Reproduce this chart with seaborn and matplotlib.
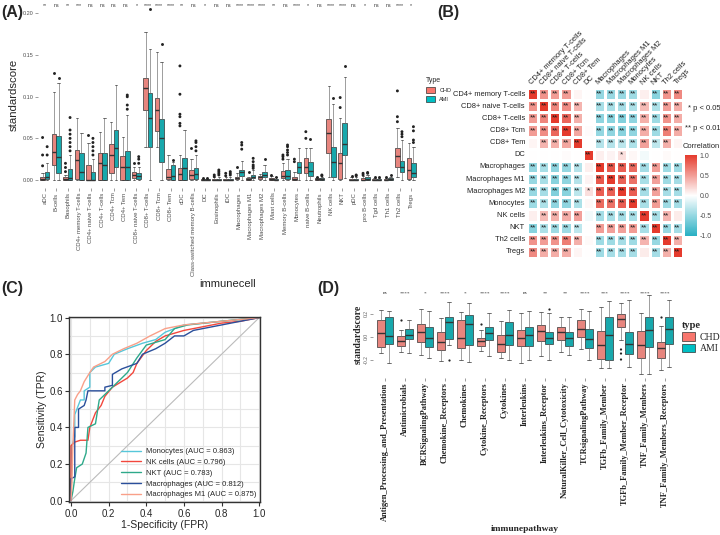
import numpy as np
import pandas as pd
import matplotlib
matplotlib.use("Agg")
import matplotlib.pyplot as plt
import seaborn as sns
from matplotlib.colors import LinearSegmentedColormap
from matplotlib.patches import Patch
from matplotlib.ticker import MultipleLocator

# ---------------- Panel A data ----------------
cells = ["aDC", "B-cells", "Basophils", "CD4+ memory T-cells", "CD4+ naive T-cells",
         "CD4+ T-cells", "CD4+ Tcm", "CD4+ Tem", "CD8+ naive T-cells", "CD8+ T-cells",
         "CD8+ Tcm", "CD8+ Tem", "cDC", "Class-switched memory B-cells", "DC",
         "Eosinophils", "iDC", "Macrophages", "Macrophages M1", "Macrophages M2",
         "Mast cells", "Memory B-cells", "Monocytes", "naive B-cells", "Neutrophils",
         "NK cells", "NKT", "pDC", "pro B-cells", "Tgd cells", "Th1 cells", "Th2 cells", "Tregs"]
cell_sig = ["**", "ns", "**", "***", "ns", "ns", "ns", "ns", "*", "****", "****", "****",
            "**", "ns", "*", "ns", "ns", "****", "****", "****", "**", "ns", "****", "*",
            "ns", "****", "****", "ns", "*", "ns", "ns", "****", "*"]
# (lower whisker, Q1, median, Q3, upper whisker)
chd_cell = [(0, 0, 0.001, 0.003, 0.008), (0, 0.018, 0.034, 0.055, 0.106),
            (0, 0, 0.001, 0.003, 0.006), (0, 0.001, 0.024, 0.036, 0.075),
            (0, 0, 0.0005, 0.018, 0.045), (0, 0, 0.020, 0.033, 0.058),
            (0, 0.008, 0.030, 0.043, 0.070), (0, 0, 0.016, 0.029, 0.052),
            (0, 0.002, 0.006, 0.009, 0.016), (0.040, 0.084, 0.110, 0.123, 0.178),
            (0.040, 0.059, 0.084, 0.098, 0.154), (0, 0.001, 0.004, 0.013, 0.030),
            (0, 0, 0.007, 0.014, 0.030), (0, 0.001, 0.006, 0.012, 0.025),
            (0, 0, 0, 0.001, 0.001), (0, 0, 0, 0.001, 0.003), (0, 0, 0, 0.001, 0.003),
            (0, 0.001, 0.002, 0.004, 0.008), (0, 0, 0.001, 0.002, 0.004),
            (0, 0.001, 0.003, 0.005, 0.007), (0, 0, 0.001, 0.002, 0.005),
            (0, 0.002, 0.005, 0.011, 0.020), (0, 0, 0.001, 0.004, 0.010),
            (0, 0.008, 0.015, 0.026, 0.038), (0, 0, 0.001, 0.002, 0.003),
            (0.004, 0.032, 0.057, 0.073, 0.113), (0, 0.001, 0.020, 0.033, 0.074),
            (0, 0, 0, 0.001, 0.003), (0, 0, 0, 0.002, 0.005), (0, 0, 0, 0.001, 0.002),
            (0, 0, 0, 0.001, 0.002), (0.003, 0.016, 0.029, 0.038, 0.062),
            (0, 0.001, 0.012, 0.026, 0.045)]
ami_cell = [(0, 0.001, 0.003, 0.010, 0.020), (0, 0.008, 0.028, 0.053, 0.117),
            (0, 0, 0.002, 0.013, 0.030), (0, 0, 0.010, 0.032, 0.057),
            (0, 0, 0.0005, 0.010, 0.025), (0, 0, 0.018, 0.033, 0.075),
            (0, 0.015, 0.038, 0.060, 0.114), (0, 0, 0.016, 0.035, 0.078),
            (0, 0.001, 0.005, 0.008, 0.015), (0, 0.040, 0.075, 0.104, 0.157),
            (0, 0.022, 0.050, 0.073, 0.142), (0, 0, 0.005, 0.018, 0.022),
            (0, 0, 0.014, 0.026, 0.060), (0, 0.001, 0.007, 0.014, 0.030),
            (0, 0, 0, 0.001, 0.001), (0, 0, 0, 0.001, 0.004), (0, 0, 0, 0.001, 0.004),
            (0, 0.005, 0.009, 0.012, 0.023), (0, 0.002, 0.004, 0.006, 0.012),
            (0, 0.004, 0.006, 0.010, 0.018), (0, 0, 0, 0.001, 0.003),
            (0, 0.001, 0.005, 0.012, 0.025), (0, 0.008, 0.015, 0.021, 0.038),
            (0, 0.005, 0.011, 0.021, 0.038), (0, 0, 0.001, 0.002, 0.004),
            (0, 0.003, 0.021, 0.040, 0.091), (0.002, 0.030, 0.043, 0.069, 0.124),
            (0, 0, 0, 0.001, 0.004), (0, 0, 0.001, 0.003, 0.006), (0, 0, 0, 0.001, 0.002),
            (0, 0, 0.001, 0.002, 0.004), (0, 0.010, 0.015, 0.023, 0.048),
            (0, 0.003, 0.008, 0.020, 0.040)]
chd_cell_out = [[0.017, 0.030, 0.051], [0.128], [0.010, 0.015, 0.020], [], [0.054], [], [], [],
                [0.020], [], [], [], [0.065, 0.068, 0.076, 0.079, 0.103, 0.137], [0.038],
                [0.002], [0.004, 0.006], [0.005, 0.008], [0.016], [0.009], [], [0.006],
                [0.025, 0.028, 0.030], [0.022, 0.025], [0.050, 0.058], [0.004], [],
                [0.087, 0.099], [0.005], [0.006, 0.008], [0.003], [0.003],
                [0.070, 0.076, 0.107], []]
ami_cell_out = [[0.030, 0.040], [0.122], [0.035, 0.040, 0.045, 0.050, 0.055, 0.060, 0.075], [],
                [0.030, 0.035, 0.040, 0.045, 0.050], [], [], [0.085, 0.090, 0.100, 0.102],
                [0.020, 0.025, 0.028], [0.205], [0.163], [0.024], [],
                [0.035, 0.040, 0.045, 0.047], [0.002], [0.006, 0.008, 0.010, 0.012],
                [0.006, 0.008, 0.010], [0.037, 0.042, 0.045], [0.014, 0.016, 0.018, 0.022, 0.026],
                [0.025], [0.004], [0.030, 0.033, 0.036, 0.040, 0.042], [], [0.049],
                [0.005, 0.006], [0.098], [0.137], [0.005, 0.006], [0.008, 0.009], [0.003],
                [0.006], [0.052, 0.055, 0.058], [0.045, 0.048, 0.059, 0.064]]

# ---------------- Panel B data ----------------
corr_names = ["CD4+ memory T-cells", "CD8+ naive T-cells", "CD8+ T-cells", "CD8+ Tcm",
              "CD8+ Tem", "DC", "Macrophages", "Macrophages M1", "Macrophages M2",
              "Monocytes", "NK cells", "NKT", "Th2 cells", "Tregs"]
corr_values = [
    [1.00, 0.55, 0.50, 0.50, 0.05, 0.00, -0.50, -0.48, -0.48, -0.45, 0.08, -0.55, 0.55, 0.60],
    [0.55, 1.00, 0.62, 0.58, 0.38, 0.00, -0.40, -0.40, -0.42, -0.38, 0.35, -0.38, 0.50, 0.42],
    [0.50, 0.62, 1.00, 0.78, 0.40, 0.00, -0.52, -0.55, -0.58, -0.52, 0.40, -0.45, 0.55, 0.42],
    [0.50, 0.58, 0.78, 1.00, 0.45, 0.02, -0.50, -0.52, -0.55, -0.52, 0.42, -0.45, 0.65, 0.42],
    [0.05, 0.38, 0.40, 0.45, 1.00, 0.00, -0.35, -0.35, -0.32, -0.38, 0.48, -0.30, 0.40, 0.05],
    [0.00, 0.00, 0.00, 0.02, 0.00, 1.00, 0.08, 0.06, 0.16, 0.04, -0.06, 0.00, 0.03, 0.00],
    [-0.50, -0.40, -0.52, -0.50, -0.35, 0.08, 1.00, 0.85, 0.82, 0.75, -0.42, 0.50, -0.45, -0.45],
    [-0.48, -0.40, -0.55, -0.52, -0.35, 0.06, 0.85, 1.00, 0.80, 0.72, -0.40, 0.48, -0.45, -0.42],
    [-0.48, -0.42, -0.58, -0.55, -0.32, 0.16, 0.82, 0.80, 1.00, 0.82, -0.42, 0.48, -0.42, -0.42],
    [-0.45, -0.38, -0.52, -0.52, -0.38, 0.04, 0.75, 0.72, 0.82, 1.00, -0.40, 0.50, -0.45, -0.42],
    [0.08, 0.35, 0.40, 0.42, 0.48, -0.06, -0.42, -0.40, -0.42, -0.40, 1.00, -0.40, 0.38, 0.10],
    [-0.55, -0.38, -0.45, -0.45, -0.30, 0.00, 0.50, 0.48, 0.48, 0.50, -0.40, 1.00, -0.48, -0.42],
    [0.55, 0.50, 0.55, 0.65, 0.40, 0.03, -0.45, -0.45, -0.42, -0.45, 0.38, -0.48, 1.00, 0.40],
    [0.60, 0.42, 0.42, 0.42, 0.05, 0.00, -0.45, -0.42, -0.42, -0.42, 0.10, -0.42, 0.40, 1.00],
]

# ---------------- Panel C data ----------------
roc_labels = ["Monocytes (AUC = 0.863)", "NK cells (AUC = 0.796)", "NKT (AUC = 0.783)",
              "Macrophages (AUC = 0.812)", "Macrophages M1 (AUC = 0.875)"]
roc_colors = ["#56C7DA", "#F2473C", "#2EA98A", "#2A4F9B", "#F9A089"]
fpr_mono = [0, 0.005, 0.02, 0.02, 0.05, 0.07, 0.07, 0.10, 0.10, 0.13, 0.20, 0.23, 0.30, 0.38, 0.45, 0.50, 0.60, 0.80, 1.0]
tpr_mono = [0, 0.30, 0.35, 0.47, 0.55, 0.55, 0.60, 0.62, 0.70, 0.73, 0.75, 0.80, 0.83, 0.86, 0.88, 0.92, 0.96, 0.98, 1.0]
fpr_nk = [0, 0.0, 0.02, 0.05, 0.09, 0.10, 0.13, 0.16, 0.18, 0.22, 0.30, 0.33, 0.35, 0.40, 0.45, 0.50, 0.60, 0.80, 0.90, 1.0]
tpr_nk = [0, 0.30, 0.32, 0.33, 0.33, 0.40, 0.48, 0.52, 0.57, 0.62, 0.67, 0.70, 0.75, 0.82, 0.87, 0.90, 0.93, 0.97, 0.98, 1.0]
fpr_nkt = [0, 0.01, 0.02, 0.03, 0.06, 0.08, 0.09, 0.13, 0.15, 0.20, 0.25, 0.30, 0.35, 0.40, 0.50, 0.55, 0.62, 0.80, 1.0]
tpr_nkt = [0, 0.05, 0.12, 0.18, 0.20, 0.26, 0.40, 0.42, 0.55, 0.60, 0.65, 0.70, 0.78, 0.85, 0.88, 0.94, 0.96, 0.98, 1.0]
fpr_mac = [0, 0.0, 0.02, 0.02, 0.04, 0.04, 0.07, 0.08, 0.09, 0.18, 0.18, 0.22, 0.22, 0.27, 0.35, 0.38, 0.45, 0.50, 0.55, 0.60, 0.65, 0.80, 1.0]
tpr_mac = [0, 0.12, 0.13, 0.40, 0.40, 0.50, 0.52, 0.55, 0.60, 0.60, 0.62, 0.63, 0.69, 0.72, 0.75, 0.80, 0.83, 0.86, 0.90, 0.90, 0.93, 0.96, 1.0]
fpr_m1 = [0, 0.005, 0.01, 0.02, 0.035, 0.05, 0.07, 0.10, 0.12, 0.18, 0.22, 0.28, 0.35, 0.42, 0.50, 0.60, 0.80, 1.0]
tpr_m1 = [0, 0.10, 0.30, 0.55, 0.58, 0.60, 0.65, 0.70, 0.73, 0.76, 0.80, 0.83, 0.86, 0.90, 0.94, 0.96, 0.98, 1.0]
chance = [0.0, 1.0]

# ---------------- Panel D data ----------------
pathways = ["Antigen_Processing_and_Presentation", "Antimicrobials", "BCRSignalingPathway",
            "Chemokine_Receptors", "Chemokines", "Cytokine_Receptors", "Cytokines",
            "Interleukins", "Interleukins_Receptor", "NaturalKiller_Cell_Cytotoxicity",
            "TCRsignalingPathway", "TGFb_Family_Member", "TGFb_Family_Member_Receptor",
            "TNF_Family_Members", "TNF_Family_Members_Receptors"]
path_sig = ["ns", "****", "*", "****", "*", "****", "****", "ns", "**", "**", "****", "***",
            "****", "****", "****"]
chd_path = [(-0.139, -0.092, 0.029, 0.145, 0.232), (-0.130, -0.081, -0.035, 0.006, 0.058),
            (-0.159, -0.043, 0.040, 0.110, 0.238), (-0.208, -0.116, -0.043, 0.043, 0.160),
            (-0.203, -0.101, -0.014, 0.145, 0.217), (-0.120, -0.081, -0.038, -0.008, 0.058),
            (-0.188, -0.130, -0.058, 0.020, 0.139), (-0.226, -0.081, -0.014, 0.058, 0.203),
            (-0.168, -0.038, 0.049, 0.101, 0.217), (-0.130, -0.029, 0.038, 0.087, 0.174),
            (-0.110, 0.000, 0.064, 0.145, 0.241), (-0.267, -0.194, -0.075, 0.049, 0.261),
            (-0.029, 0.081, 0.151, 0.197, 0.290), (-0.325, -0.182, -0.072, 0.049, 0.209),
            (-0.290, -0.188, -0.101, -0.043, 0.090)]
ami_path = [(-0.226, -0.064, 0.006, 0.174, 0.220), (-0.139, -0.023, 0.020, 0.064, 0.145),
            (-0.188, -0.092, -0.014, 0.087, 0.226), (-0.070, -0.023, 0.125, 0.174, 0.305),
            (-0.217, -0.072, 0.107, 0.189, 0.290), (-0.168, -0.029, 0.029, 0.087, 0.203),
            (-0.197, -0.072, 0.020, 0.125, 0.232), (-0.203, -0.081, 0.014, 0.087, 0.226),
            (-0.197, -0.064, -0.006, 0.043, 0.209), (-0.159, -0.081, -0.014, 0.043, 0.174),
            (-0.203, -0.101, -0.023, 0.064, 0.226), (-0.267, -0.197, 0.020, 0.174, 0.310),
            (-0.261, -0.153, -0.064, 0.038, 0.319), (-0.325, -0.087, 0.058, 0.168, 0.363),
            (-0.261, -0.058, 0.072, 0.168, 0.319)]
chd_path_out = [[], [0.145], [], [], [], [0.107], [], [], [], [], [], [],
                [-0.110, -0.145, -0.197], [], [0.174]]
ami_path_out = [[], [], [], [-0.197], [], [], [], [], [0.238], [], [], [], [], [], []]

groups = ["CHD", "AMI"]
pal = {"CHD": "#F8766D", "AMI": "#00BFC4"}


def long_frame(names, chd, ami):
    rows = []
    for n, c, a in zip(names, chd, ami):
        rows += [(n, "CHD", v) for v in c]
        rows += [(n, "AMI", v) for v in a]
    return pd.DataFrame(rows, columns=["name", "type", "value"])


sns.set_theme(style="white")
plt.rcParams["font.family"] = ["Liberation Sans", "DejaVu Sans"]

W, H = 720, 535
fig = plt.figure(figsize=(7.2, 5.35), dpi=100)


def ax_px(l, t, r, b):
    return fig.add_axes([l / W, 1 - b / H, (r - l) / W, (b - t) / H])


# ================= Panel A =================
axA = ax_px(38, 1, 418, 188.3)
dfA = long_frame(cells, chd_cell, ami_cell)
outA = long_frame(cells, chd_cell_out, ami_cell_out)
sns.boxplot(data=dfA, x="name", y="value", hue="type", order=cells, hue_order=groups,
            palette=pal, whis=(0, 100), showfliers=False, width=0.8, gap=0.0,
            linewidth=0.5, linecolor="#333333", medianprops={"linewidth": 1.0},
            whiskerprops={"color": "#777777"}, legend=False, ax=axA)
sns.stripplot(data=outA, x="name", y="value", hue="type", order=cells, hue_order=groups,
              palette={"CHD": "#222222", "AMI": "#222222"}, dodge=True, jitter=False,
              size=2.1, legend=False, ax=axA)
axA.set_xlim(-0.6, 32.6)
axA.set_ylim(-0.01, 0.215)
for i, s in enumerate(cell_sig):
    axA.text(i, 0.21, s, ha="center", va="center", fontsize=3.8, color="#333333")
axA.set_yticks([0, 0.05, 0.10, 0.15, 0.20])
axA.set_yticklabels(["0.00", "0.05", "0.10", "0.15", "0.20"], fontsize=4, color="#4D4D4D")
axA.set_xticks(range(len(cells)))
axA.set_xticklabels(cells, rotation=90, fontsize=4.3, color="#4D4D4D")
axA.tick_params(axis="both", length=2, width=0.4, color="#555555", pad=1, bottom=True, left=True)
for sp in axA.spines.values():
    sp.set_visible(False)
axA.set_xlabel("immunecell", fontsize=8, labelpad=2)
axA.set_ylabel("standardscore", fontsize=8.2, labelpad=3)
fig.legend(handles=[Patch(facecolor=pal[g], edgecolor="#333333", linewidth=0.5, label=g) for g in groups],
           title="Type", loc="upper left", bbox_to_anchor=(425 / W, 1 - 76 / H), frameon=False,
           fontsize=4, title_fontsize=5, handlelength=1.6, handleheight=1.2, labelspacing=0.6,
           alignment="left", borderaxespad=0, borderpad=0.2)

# ================= Panel B =================
axB = ax_px(527, 88, 683, 258)
cax = ax_px(685, 155, 697, 236)
corr = pd.DataFrame(corr_values, index=corr_names, columns=corr_names)
annot = corr.map(lambda r: "**" if abs(r) >= 0.2 else ("*" if abs(r) >= 0.12 else ""))
cmap = LinearSegmentedColormap.from_list("corr", ["#28AFC3", "#FFFFFF", "#E53B2D"])
sns.heatmap(corr, cmap=cmap, vmin=-1, vmax=1, annot=annot.values, fmt="",
            annot_kws={"fontsize": 5.8, "color": "#1A1A1A"}, linewidths=0.8, linecolor="white",
            xticklabels=True, yticklabels=True, cbar_ax=cax, ax=axB)
axB.xaxis.tick_top()
axB.set_xticklabels(corr_names, rotation=45, ha="left", rotation_mode="anchor", fontsize=5.4, color="#222222")
axB.set_yticklabels(corr_names, rotation=0, fontsize=5.4, color="#222222")
axB.tick_params(length=0, pad=1.5)
axB.set_xlabel("")
axB.set_ylabel("")
cax.set_yticks([-1, -0.5, 0, 0.5, 1])
cax.set_yticklabels(["-1.0", "-0.5", "0.0", "0.5", "1.0"], fontsize=5, color="#4D4D4D")
cax.tick_params(length=0, pad=2)
for sp in cax.spines.values():
    sp.set_visible(False)
fig.text(683 / W, 1 - 147 / H, "Correlation", fontsize=5.4, va="center", ha="left")
fig.text(688 / W, 1 - 109 / H, "* p < 0.05", fontsize=5.5, va="center", ha="left")
fig.text(685 / W, 1 - 128 / H, "** p < 0.01", fontsize=5.5, va="center", ha="left")

# ================= Panel C =================
axC = ax_px(69.3, 316.7, 260, 502.3)
sns.lineplot(x=chance, y=chance, color="#BBBBBB", linewidth=0.8, ax=axC)
for fx, ty, lab, col in zip([fpr_mono, fpr_nk, fpr_nkt, fpr_mac, fpr_m1],
                            [tpr_mono, tpr_nk, tpr_nkt, tpr_mac, tpr_m1], roc_labels, roc_colors):
    sns.lineplot(x=fx, y=ty, sort=False, estimator=None, color=col, linewidth=1.0, label=lab, ax=axC)
axC.set_xlim(-0.009, 1.004)
axC.set_ylim(-0.009, 1.005)
axC.xaxis.set_major_locator(MultipleLocator(0.2))
axC.yaxis.set_major_locator(MultipleLocator(0.2))
axC.xaxis.set_minor_locator(MultipleLocator(0.1))
axC.yaxis.set_minor_locator(MultipleLocator(0.1))
axC.grid(True, which="both", color="#E6E6E6", linewidth=0.8)
axC.set_axisbelow(True)
axC.tick_params(axis="both", which="major", labelsize=7, length=3, width=0.8, color="#333333",
                bottom=True, left=True, pad=1.5)
axC.tick_params(axis="both", which="minor", length=0)
for sp in axC.spines.values():
    sp.set_visible(True)
    sp.set_color("#333333")
    sp.set_linewidth(1.0)
axC.set_xlabel("1-Specificity (FPR)", fontsize=7.5, labelpad=1)
axC.set_ylabel("Sensitivity (TPR)", fontsize=7.5, labelpad=2)
legC = axC.legend(loc="lower right", frameon=False, fontsize=5.5, handlelength=2.6,
                  labelspacing=0.45, borderaxespad=0.1, handletextpad=0.6)

# ================= Panel D =================
serif = ["Liberation Serif", "DejaVu Serif"]
axD = ax_px(373, 291.3, 677, 378.3)
dfD = long_frame(pathways, chd_path, ami_path)
outD = long_frame(pathways, chd_path_out, ami_path_out)
sns.boxplot(data=dfD, x="name", y="value", hue="type", order=pathways, hue_order=groups,
            palette=pal, whis=(0, 100), showfliers=False, width=0.8, gap=0.0,
            linewidth=0.5, linecolor="#333333", medianprops={"linewidth": 1.0},
            whiskerprops={"color": "#777777"}, legend=False, ax=axD)
sns.stripplot(data=outD, x="name", y="value", hue="type", order=pathways, hue_order=groups,
              palette={"CHD": "#222222", "AMI": "#222222"}, dodge=True, jitter=False,
              size=1.6, legend=False, ax=axD)
axD.set_xlim(-0.6, 14.6)
axD.set_ylim(-0.36, 0.395)
for i, s in enumerate(path_sig):
    axD.text(i, 0.377, s, ha="center", va="center", fontsize=3.8, color="#333333", family=serif)
axD.set_yticks([-0.2, 0.0, 0.2])
axD.set_yticklabels(["-0.2", "0.0", "0.2"], rotation=90, va="center", fontsize=4, color="#4D4D4D", family=serif)
axD.set_xticks(range(len(pathways)))
axD.set_xticklabels(pathways, rotation=90, fontsize=6, fontweight="bold", family=serif, color="#222222")
axD.tick_params(axis="both", length=2, width=0.4, color="#555555", pad=1, bottom=True, left=True)
for sp in axD.spines.values():
    sp.set_visible(False)
axD.set_xlabel("immunepathway", fontsize=6.8, fontweight="bold", family=serif, labelpad=3)
axD.set_ylabel("standardscore", fontsize=7, fontweight="bold", family=serif, labelpad=1)
legD = fig.legend(handles=[Patch(facecolor=pal[g], edgecolor="#333333", linewidth=0.5, label=g) for g in groups],
                  title="type", loc="upper left", bbox_to_anchor=(681 / W, 1 - 320 / H), frameon=False,
                  prop={"family": serif, "size": 7}, handlelength=1.3, handleheight=1.0,
                  labelspacing=0.2, alignment="left", borderaxespad=0, borderpad=0.1, handletextpad=0.5)
legD.get_title().set_fontfamily(serif)
legD.get_title().set_fontsize(7.5)
legD.get_title().set_fontweight("bold")

# ================= Panel labels =================
for txt, x, y in [("(A)", 1, 12), ("(B)", 437, 12), ("(C)", 1, 288), ("(D)", 317, 288)]:
    fig.text(x / W, 1 - y / H, txt, fontsize=11.5, fontweight="bold", va="center", ha="left")

fig.savefig("out.png", dpi=100)
